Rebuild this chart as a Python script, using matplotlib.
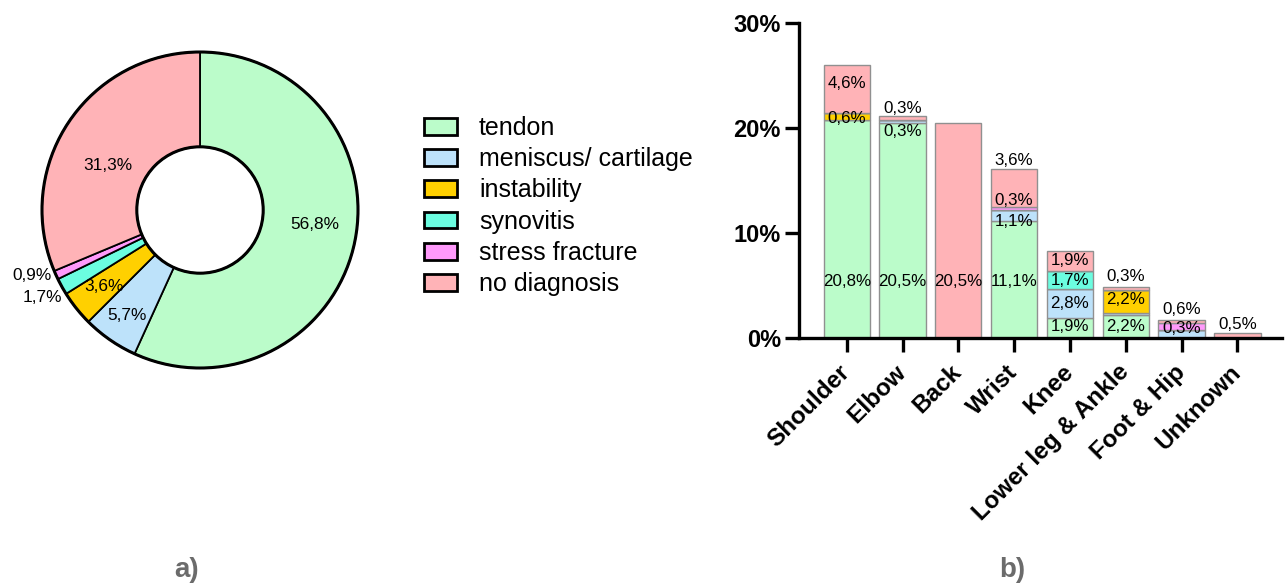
import matplotlib
matplotlib.use('Agg')
import matplotlib.pyplot as plt
from matplotlib.patches import Patch, Circle
import numpy as np

plt.rcParams['font.family'] = ['Liberation Sans', 'DejaVu Sans']

# pie (a)
diagnoses = ['tendon', 'meniscus/ cartilage', 'instability', 'synovitis',
             'stress fracture', 'no diagnosis']
diag_share = [56.8, 5.7, 3.6, 1.7, 0.9, 31.3]
diag_text = ['56,8%', '5,7%', '3,6%', '1,7%', '0,9%', '31,3%']
colors = ['#bbfcca', '#bde2fa', '#ffd000', '#6bfde0', '#ff99fb', '#ffb3b7']

# stacked bars (b)
sites = ['Shoulder', 'Elbow', 'Back', 'Wrist', 'Knee', 'Lower leg & Ankle',
         'Foot & Hip', 'Unknown']
tendon = [20.8, 20.5, 0, 11.1, 1.9, 2.2, 0, 0]
meniscus = [0, 0.3, 0, 1.1, 2.8, 0.2, 0.8, 0]
instability = [0.6, 0, 0, 0, 0, 2.2, 0, 0]
synovitis = [0, 0, 0, 0, 1.7, 0, 0, 0]
stress_fracture = [0, 0, 0, 0.3, 0, 0, 0.6, 0]
no_diagnosis = [4.6, 0.3, 20.5, 3.6, 1.9, 0.3, 0.3, 0.5]

# value labels as printed on the bars (bar index, text, height)
lab_bar = [0, 0, 0, 1, 1, 1, 2, 3, 3, 3, 3, 4, 4, 4, 4, 5, 5, 5, 6, 6, 7]
lab_text = ['20,8%', '0,6%', '4,6%', '20,5%', '0,3%', '0,3%', '20,5%',
            '11,1%', '1,1%', '0,3%', '3,6%', '1,9%', '2,8%', '1,7%', '1,9%',
            '2,2%', '2,2%', '0,3%', '0,3%', '0,6%', '0,5%']
lab_y = [5.4, 20.9, 24.2, 5.4, 19.65, 21.9, 5.4, 5.4, 11.1, 13.1, 16.95,
         1.07, 3.24, 5.45, 7.37, 1.08, 3.62, 5.9, 0.92, 2.67, 1.24]

W, H = 1287, 588
fig = plt.figure(figsize=(W / 100, H / 100), dpi=100)

# ---- donut ----
cx, cy, r = 200, 210, 158
lim = 1.05
ax1 = fig.add_axes([(cx - r * lim) / W, (H - cy - r * lim) / H,
                    2 * r * lim / W, 2 * r * lim / H])
wedges, _ = ax1.pie(diag_share, colors=colors, startangle=90, counterclock=False,
                    radius=1, wedgeprops=dict(width=0.6, edgecolor='black', linewidth=1.3))
ax1.add_patch(Circle((0, 0), 1, fill=False, ec='black', lw=2.2))
ax1.add_patch(Circle((0, 0), 0.4, fill=False, ec='black', lw=2.2))
ax1.set_xlim(-lim, lim)
ax1.set_ylim(-lim, lim)
ax1.set_aspect('equal')
ax1.axis('off')

# label radius and angle nudge (degrees) for each slice label
lab_r = [0.73, 0.81, 0.78, 1.14, 1.14, 0.65]
lab_nudge = [4.8, 0, 0, 0, -3.1, 7.7]
cum = np.cumsum([0] + diag_share)
for i, t in enumerate(diag_text):
    mid = (cum[i] + cum[i + 1]) / 2
    ang = np.deg2rad(90 - mid * 3.6 + lab_nudge[i])
    ax1.text(lab_r[i] * np.cos(ang), lab_r[i] * np.sin(ang), t,
             ha='center', va='center', fontsize=12.4)

handles = [Patch(facecolor=c, edgecolor='black', linewidth=2) for c in colors]
fig.legend(handles, diagnoses, loc='upper left', bbox_to_anchor=(414 / W, 1 - 106 / H),
           frameon=False, fontsize=18, handlelength=1.3, handleheight=0.65,
           handletextpad=0.9, labelspacing=0.29, borderaxespad=0)

# ---- stacked bars ----
x0, x1, y0, y1 = 799, 1282, 338, 23
ax2 = fig.add_axes([x0 / W, (H - y0) / H, (x1 - x0) / W, (y0 - y1) / H])
x = np.arange(len(sites))
bottom = np.zeros(len(sites))
for vals, c in zip([tendon, meniscus, instability, synovitis, stress_fracture, no_diagnosis], colors):
    vals = np.array(vals)
    ax2.bar(x, vals, 0.83, bottom=bottom, color=c, edgecolor='#909090', linewidth=1)
    bottom += vals

for b, t, yy in zip(lab_bar, lab_text, lab_y):
    ax2.text(b, yy, t, ha='center', va='center', fontsize=12.2)

ax2.set_xlim(-0.855, 7.8)
ax2.set_ylim(0, 30)
ax2.set_yticks([0, 10, 20, 30])
ax2.set_yticklabels(['0%', '10%', '20%', '30%'], fontsize=17, fontweight='bold')
ax2.set_xticks(x)
ax2.set_xticklabels(sites, fontsize=17.5, fontweight='bold', rotation=45,
                    ha='right', va='center', rotation_mode='anchor')
ax2.spines[['top', 'right']].set_visible(False)
for s in ['left', 'bottom']:
    ax2.spines[s].set_linewidth(2.4)
ax2.tick_params(axis='both', width=2.4, length=10, pad=3)
ax2.tick_params(axis='x', pad=12)

fig.text(187 / W, 1 - 570 / H, 'a)', fontsize=20, fontweight='bold', color='#6b6b6b',
         ha='center', va='center')
fig.text(1012 / W, 1 - 570 / H, 'b)', fontsize=20, fontweight='bold', color='#6b6b6b',
         ha='center', va='center')

fig.savefig('out.png', dpi=100)
